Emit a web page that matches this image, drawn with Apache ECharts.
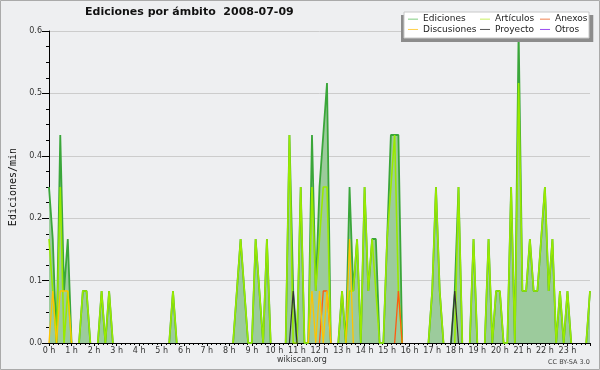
<!DOCTYPE html>
<html><head><meta charset="utf-8">
<script src="https://cdn.jsdelivr.net/npm/echarts@6/dist/echarts.min.js"></script>
<style>html,body{margin:0;padding:0;background:#eeeff1}#c{width:600px;height:370px}</style>
</head><body><div id="c"></div>
<script>
// 10-minute steps over the day (index i -> i/6 hours)
const hourLabels = ['0 h','1 h','2 h','3 h','4 h','5 h','6 h','7 h','8 h','9 h','10 h','11 h','12 h','13 h','14 h','15 h','16 h','17 h','18 h','19 h','20 h','21 h','22 h','23 h'];
const yTicks = [0, 0.12, 0.24, 0.36, 0.48, 0.6];

const ediciones = [
0.3,0.2,0,0.4,0.1,0.2,0,0,0,0.1,0.1,0,
0,0,0.1,0,0.1,0,0,0,0,0,0,0,
0,0,0,0,0,0,0,0,0,0.1,0,0,
0,0,0,0,0,0,0,0,0,0,0,0,
0,0,0.1,0.2,0.1,0,0,0.2,0.1,0,0.2,0,
0,0,0,0,0.4,0.1,0,0.3,0,0,0.4,0.1,
0.3,0.4,0.5,0,0,0,0.1,0,0.3,0.1,0.2,0,
0.3,0.1,0.2,0.2,0,0,0.2,0.4,0.4,0.4,0,0,
0,0,0,0,0,0,0.1,0.3,0.1,0,0,0,
0.1,0.3,0,0,0,0.2,0,0,0,0.2,0,0.1,
0.1,0,0,0.3,0,0.6,0.1,0.1,0.2,0.1,0.1,0.2,
0.3,0.1,0.2,0,0.1,0,0.1,0,0,0,0,0,
0.1];
const articulos = [
0.2,0.1,0,0.3,0,0.1,0,0,0,0.1,0.1,0,
0,0,0.1,0,0.1,0,0,0,0,0,0,0,
0,0,0,0,0,0,0,0,0,0.1,0,0,
0,0,0,0,0,0,0,0,0,0,0,0,
0,0,0.1,0.2,0.1,0,0,0.2,0.1,0,0.2,0,
0,0,0,0,0.4,0,0,0.3,0,0,0.3,0.1,
0.2,0.3,0.3,0,0,0,0.1,0,0.1,0.1,0.2,0,
0.3,0.1,0.2,0.1,0,0,0.2,0.3,0.4,0.1,0,0,
0,0,0,0,0,0,0.1,0.3,0.1,0,0,0,
0,0.3,0,0,0,0.2,0,0,0,0.2,0,0.1,
0.1,0,0,0.3,0,0.5,0.1,0.1,0.2,0.1,0.1,0.2,
0.3,0.1,0.2,0,0.1,0,0.1,0,0,0,0,0,
0.1];
const anexos = [
0,0,0,0,0,0,0,0,0,0,0,0,
0,0,0,0,0,0,0,0,0,0,0,0,
0,0,0,0,0,0,0,0,0,0,0,0,
0,0,0,0,0,0,0,0,0,0,0,0,
0,0,0,0,0,0,0,0,0,0,0,0,
0,0,0,0,0,0,0,0,0,0,0,0,
0,0.1,0.1,0,0,0,0,0,0,0,0,0,
0,0,0,0,0,0,0,0,0,0.1,0,0,
0,0,0,0,0,0,0,0,0,0,0,0,
0,0,0,0,0,0,0,0,0,0,0,0,
0,0,0,0,0,0,0,0,0,0,0,0,
0,0,0,0,0,0,0,0,0,0,0,0,
0];
const discusiones = [
0,0.1,0,0.1,0.1,0.1,0,0,0,0,0,0,
0,0,0,0,0,0,0,0,0,0,0,0,
0,0,0,0,0,0,0,0,0,0,0,0,
0,0,0,0,0,0,0,0,0,0,0,0,
0,0,0,0,0,0,0,0,0,0,0,0,
0,0,0,0,0,0,0,0,0,0,0.1,0,
0.1,0,0.1,0,0,0,0,0,0.2,0,0,0,
0,0,0,0,0,0,0,0,0,0,0,0,
0,0,0,0,0,0,0,0,0,0,0,0,
0,0,0,0,0,0,0,0,0,0,0,0,
0,0,0,0,0,0,0,0,0,0,0,0,
0,0,0,0,0,0,0,0,0,0,0,0,
0];
const proyecto = [
0,0,0,0,0,0,0,0,0,0,0,0,
0,0,0,0,0,0,0,0,0,0,0,0,
0,0,0,0,0,0,0,0,0,0,0,0,
0,0,0,0,0,0,0,0,0,0,0,0,
0,0,0,0,0,0,0,0,0,0,0,0,
0,0,0,0,0,0.1,0,0,0,0,0,0,
0,0,0,0,0,0,0,0,0,0,0,0,
0,0,0,0,0,0,0,0,0,0,0,0,
0,0,0,0,0,0,0,0,0,0,0,0,
0.1,0,0,0,0,0,0,0,0,0,0,0,
0,0,0,0,0,0,0,0,0,0,0,0,
0,0,0,0,0,0,0,0,0,0,0,0,
0];
const otros = new Array(145).fill(0);

// keep zero runs off the baseline: only points that touch a non-zero value are drawn
function toSeries(arr){
  return arr.map((v,i)=>{
    const near = v>0 || (i>0 && arr[i-1]>0) || (i<arr.length-1 && arr[i+1]>0);
    return [i/6, near ? v : '-'];
  });
}

const F = 'DejaVu Sans';
const chart = echarts.init(document.getElementById('c'), null, {renderer:'canvas', width:600, height:370});
const lineBase = {type:'line', symbol:'none', connectNulls:false, animation:false, zlevel:0};
const legendBase = {zlevel:2, z:30, orient:'vertical', top:14, padding:0, itemGap:0, itemWidth:10, itemHeight:1, icon:'rect',
  textStyle:{fontFamily:F, fontSize:9, color:'#222', lineHeight:10.3}};
chart.setOption({
  backgroundColor:'#eeeff1',
  animation:false,
  title:[
    {text:'Ediciones por ámbito  2008-07-09', left:85, top:7, padding:0,
     textStyle:{fontFamily:F, fontSize:11, fontWeight:'bold', color:'#111'}},
    {text:'wikiscan.org', left:277, top:356, padding:0,
     textStyle:{fontFamily:F, fontSize:8, fontWeight:'normal', color:'#333'}},
    {text:'CC BY-SA 3.0', left:548, top:359, padding:0,
     textStyle:{fontFamily:F, fontSize:6.5, fontWeight:'normal', color:'#444'}},
    // legend frame: shadow then white box (kept above the plotted series)
    {text:' ', zlevel:1, z:20, left:401, top:15, padding:[13,96,13,96], backgroundColor:'#8c8c8c',
     textStyle:{fontSize:1, color:'transparent'}},
    {text:' ', zlevel:1, z:21, left:404, top:12, padding:[12.5,92.5,12.5,92.5], backgroundColor:'#ffffff',
     borderColor:'#c8c8c8', borderWidth:1, textStyle:{fontSize:1, color:'transparent'}}
  ],
  graphic:[
    {type:'rect', shape:{x:0.5, y:0.5, width:599, height:369}, style:{fill:'none', stroke:'#aaaaaa', lineWidth:1}}
  ],
  legend:[
    Object.assign({}, legendBase, {left:408,
     data:[{name:'Ediciones', itemStyle:{color:'#7fcc7f'}},{name:'Discusiones', itemStyle:{color:'#ffd04a'}}]}),
    Object.assign({}, legendBase, {left:480,
     data:[{name:'Artículos', itemStyle:{color:'#c8f060'}},{name:'Proyecto', itemStyle:{color:'#555555'}}]}),
    Object.assign({}, legendBase, {left:540,
     data:[{name:'Anexos', itemStyle:{color:'#f08050'}},{name:'Otros', itemStyle:{color:'#9a4cf0'}}]})
  ],
  grid:{left:46, right:10, top:31, bottom:27, containLabel:false},
  xAxis:{type:'value', min:0, max:24, interval:1,
    axisLine:{lineStyle:{color:'#000', width:1}},
    axisTick:{show:true, length:3, lineStyle:{color:'#000'}},
    minorTick:{show:true, splitNumber:5, length:2, lineStyle:{color:'#000'}},
    splitLine:{show:false},
    axisLabel:{fontFamily:F, fontSize:8, color:'#333', margin:4,
      formatter:(v)=> (v<24 ? hourLabels[v] : '')}
  },
  yAxis:{type:'value', min:yTicks[0], max:yTicks[yTicks.length-1], interval:yTicks[1],
    name:'Ediciones/min', nameLocation:'middle', nameRotate:90, nameGap:31,
    nameTextStyle:{fontFamily:'DejaVu Sans Mono', fontSize:10, color:'#111'},
    axisLine:{show:true, lineStyle:{color:'#000', width:1}},
    axisTick:{show:true, length:7, lineStyle:{color:'#000'}},
    minorTick:{show:true, splitNumber:4, length:3, lineStyle:{color:'#000'}},
    splitLine:{show:true, lineStyle:{color:'#cccccc', width:1}},
    axisLabel:{fontFamily:F, fontSize:8, color:'#333', margin:7, formatter:(v)=>v.toFixed(1)}
  },
  series:[
    Object.assign({}, lineBase, {name:'Ediciones', z:2, color:'#3aa63a', data:toSeries(ediciones),
      lineStyle:{color:'#3aa63a', width:1.8}, areaStyle:{color:'#9ccb9c', opacity:1}}),
    Object.assign({}, lineBase, {name:'Artículos', z:3, color:'#99ea00', data:toSeries(articulos),
      lineStyle:{color:'#99ea00', width:1.6}}),
    Object.assign({}, lineBase, {name:'Anexos', z:4, color:'#ff5a10', data:toSeries(anexos),
      lineStyle:{color:'#ff5a10', width:1.3}}),
    Object.assign({}, lineBase, {name:'Discusiones', z:4, color:'#ffc400', data:toSeries(discusiones),
      lineStyle:{color:'#ffc400', width:1.3}}),
    Object.assign({}, lineBase, {name:'Proyecto', z:5, color:'#333333', data:toSeries(proyecto),
      lineStyle:{color:'#333333', width:1.2}}),
    Object.assign({}, lineBase, {name:'Otros', z:5, color:'#9a4cf0', data:toSeries(otros),
      lineStyle:{color:'#9a4cf0', width:1.2}})
  ]
});
</script></body></html>
